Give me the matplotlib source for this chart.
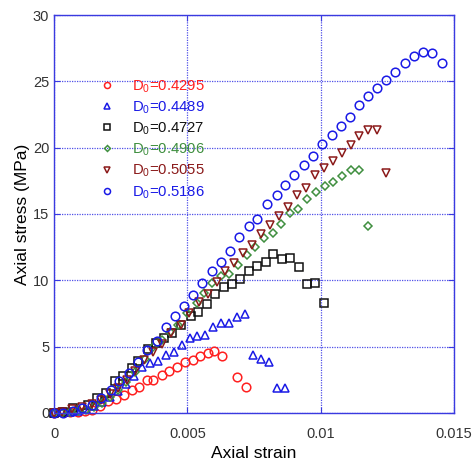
import matplotlib
matplotlib.use("Agg")
import matplotlib.pyplot as plt
from matplotlib.ticker import FixedLocator, FixedFormatter

plt.rcParams['font.family'] = ['Liberation Sans', 'DejaVu Sans']
plt.rcParams['mathtext.fontset'] = 'custom'
plt.rcParams['mathtext.rm'] = 'Liberation Sans'

# strain / stress (MPa) for each initial damage D0
strain_1 = [0, 0.0003, 0.0006, 0.0009, 0.00116, 0.00143, 0.00172, 0.00203, 0.00233, 0.00263,
            0.00293, 0.00319, 0.00349, 0.00371, 0.00405, 0.00431, 0.00461, 0.00491, 0.00521,
            0.00548, 0.00578, 0.006, 0.0063, 0.00686, 0.0072]
stress_1 = [0, 0.04, 0.08, 0.11, 0.15, 0.19, 0.53, 0.87, 1.06, 1.36, 1.73, 1.96, 2.52, 2.52,
            2.86, 3.17, 3.43, 3.81, 4.03, 4.30, 4.56, 4.67, 4.30, 2.71, 1.96]

strain_2 = [0, 0.0003, 0.0006, 0.0009, 0.0012, 0.0015, 0.0018, 0.0021, 0.0024, 0.0027, 0.003,
            0.0033, 0.0036, 0.0039, 0.0042, 0.0045, 0.0048, 0.0051, 0.00536, 0.00566, 0.00596,
            0.00626, 0.00656, 0.00686, 0.00716, 0.00746, 0.00776, 0.00806, 0.00836, 0.00866]
stress_2 = [0, 0.04, 0.08, 0.15, 0.30, 0.53, 0.83, 1.21, 1.66, 2.19, 2.79, 3.47, 3.77, 3.92,
            4.37, 4.60, 5.12, 5.65, 5.80, 5.88, 6.48, 6.78, 6.78, 7.23, 7.46, 4.37, 4.07, 3.84,
            1.88, 1.88]

strain_3 = [0, 0.00034, 0.00071, 0.00128, 0.00161, 0.00195, 0.00229, 0.00259, 0.00293, 0.00315,
            0.00353, 0.00383, 0.00413, 0.00443, 0.00476, 0.00514, 0.0054, 0.00574, 0.00604,
            0.00638, 0.00668, 0.00698, 0.00731, 0.00761, 0.00795, 0.00821, 0.00855, 0.00885,
            0.00919, 0.00949, 0.00979, 0.01013]
stress_3 = [0, 0.04, 0.38, 0.60, 1.13, 1.51, 2.41, 2.79, 3.39, 3.92, 4.82, 5.28, 5.65, 6.03,
            6.63, 7.31, 7.61, 8.21, 8.97, 9.50, 9.72, 10.10, 10.70, 11.08, 11.38, 11.98, 11.61,
            11.68, 11.00, 9.72, 9.80, 8.29]

strain_4 = [0, 0.0003, 0.0006, 0.0009, 0.0012, 0.0015, 0.0018, 0.0021, 0.0024, 0.0027, 0.00304,
            0.00341, 0.00371, 0.00405, 0.00435, 0.00465, 0.00499, 0.00536, 0.00563, 0.00593,
            0.00626, 0.00656, 0.0069, 0.00724, 0.00754, 0.00788, 0.00821, 0.00851, 0.00885,
            0.00915, 0.00949, 0.00983, 0.01016, 0.01046, 0.0108, 0.01114, 0.01144, 0.01178]
stress_4 = [0, 0.0, 0.08, 0.15, 0.23, 0.45, 0.75, 1.21, 1.73, 2.34, 3.09, 4.07, 4.97, 5.50,
            6.10, 6.63, 7.54, 8.29, 9.04, 9.80, 10.32, 10.48, 11.15, 11.91, 12.51, 13.19,
            13.56, 14.24, 15.07, 15.37, 16.13, 16.65, 17.11, 17.41, 17.86, 18.31, 18.31, 14.09]

strain_5 = [0, 0.0003, 0.00068, 0.00105, 0.00143, 0.00176, 0.0021, 0.0024, 0.00274, 0.00304,
            0.00338, 0.00371, 0.00405, 0.00439, 0.00476, 0.00506, 0.00544, 0.00578, 0.00611,
            0.00641, 0.00675, 0.00709, 0.00743, 0.00776, 0.0081, 0.00844, 0.00878, 0.00911,
            0.00945, 0.00979, 0.01013, 0.01046, 0.0108, 0.01114, 0.01144, 0.01178, 0.01211,
            0.01245]
stress_5 = [0, 0.08, 0.30, 0.45, 0.68, 0.98, 1.43, 1.88, 2.49, 3.17, 3.99, 4.60, 5.20, 6.03,
            6.63, 7.54, 8.36, 8.97, 9.87, 10.70, 11.30, 12.06, 12.66, 13.49, 14.17, 14.85,
            15.52, 16.43, 16.96, 17.94, 18.46, 18.99, 19.59, 20.20, 20.87, 21.33, 21.33, 18.09]

strain_6 = [0, 0.00034, 0.00071, 0.00105, 0.00143, 0.00176, 0.00214, 0.00244, 0.00281, 0.00315,
            0.00349, 0.00386, 0.0042, 0.00454, 0.00488, 0.00521, 0.00555, 0.00593, 0.00626,
            0.0066, 0.00694, 0.00731, 0.00761, 0.00799, 0.00836, 0.00866, 0.009, 0.00938,
            0.00971, 0.01005, 0.01043, 0.01076, 0.0111, 0.01144, 0.01178, 0.01211, 0.01245,
            0.01279, 0.01316, 0.0135, 0.01384, 0.01418, 0.01455]
stress_6 = [0, 0.02, 0.17, 0.38, 0.60, 1.13, 1.73, 2.41, 3.01, 3.84, 4.75, 5.43, 6.48, 7.31,
            8.06, 8.89, 9.80, 10.70, 11.38, 12.21, 13.26, 14.09, 14.62, 15.75, 16.43, 17.18,
            17.94, 18.69, 19.37, 20.27, 20.95, 21.63, 22.31, 23.21, 23.89, 24.49, 25.09, 25.70,
            26.38, 26.90, 27.20, 27.13, 26.38]

labels = ['D$_\\mathregular{0}$=0.4295', 'D$_\\mathregular{0}$=0.4489', 'D$_\\mathregular{0}$=0.4727',
          'D$_\\mathregular{0}$=0.4906', 'D$_\\mathregular{0}$=0.5055', 'D$_\\mathregular{0}$=0.5186']
colors = ['#ff2020', '#1a1ae6', '#111111', '#3f8f3f', '#8b1a1a', '#1a1ae6']
markers = ['o', '^', 's', 'D', 'v', 'o']
sizes = [6.2, 6.0, 6.0, 4.3, 6.0, 6.2]

xticks = [0, 0.005, 0.01, 0.015]
xtick_labels = ['0', '0.005', '0.01', '0.015']
yticks = [0, 5, 10, 15, 20, 25, 30]

fig = plt.figure(figsize=(4.75, 4.63), dpi=100)
ax = fig.add_axes([0.1137, 0.108, 0.842, 0.8596])

series = [(strain_1, stress_1), (strain_2, stress_2), (strain_3, stress_3),
          (strain_4, stress_4), (strain_5, stress_5), (strain_6, stress_6)]
for (x, y), c, m, s, lab in zip(series, colors, markers, sizes, labels):
    ax.plot(x, y, linestyle='none', marker=m, markersize=s, markerfacecolor='none',
            markeredgecolor=c, markeredgewidth=1.1, label=lab, clip_on=False)

ax.set_xlim(0, 0.015)
ax.set_ylim(0, 30)
ax.xaxis.set_major_locator(FixedLocator(xticks))
ax.xaxis.set_major_formatter(FixedFormatter(xtick_labels))
ax.set_yticks(yticks)

spine_col = '#3a3ae0'
for sp in ax.spines.values():
    sp.set_color(spine_col)
    sp.set_linewidth(1.0)
ax.grid(True, color='#5050e8', linestyle=(0, (1, 1)), linewidth=0.9)
ax.tick_params(direction='in', length=4, color=spine_col, labelcolor='#333333',
               labelsize=10.5, top=True, right=True)
ax.tick_params(axis='x', pad=10)

ax.set_xlabel('Axial strain', fontsize=12.5, labelpad=4)
ax.set_ylabel('Axial stress (MPa)', fontsize=12.5, labelpad=2)

leg = ax.legend(loc='upper left', bbox_to_anchor=(0.08, 0.875), frameon=False,
                fontsize=10.7, markerscale=0.7, handlelength=1.0, handletextpad=1.2,
                labelspacing=0.3, labelcolor='markeredgecolor')

fig.savefig('out.png', dpi=100)
